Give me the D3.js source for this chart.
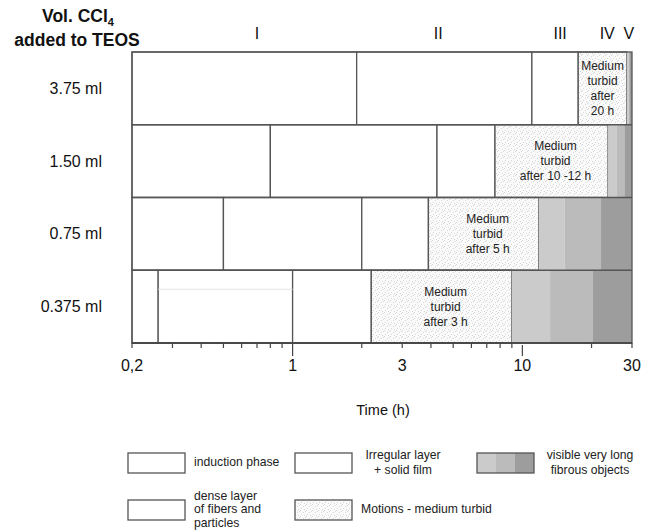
<!DOCTYPE html>
<html>
<head>
<meta charset="utf-8">
<script src="https://cdn.jsdelivr.net/npm/d3@7"></script>
<style>
  body { margin: 0; background: #fff; }
  text { font-family: Arial, "Liberation Sans", sans-serif; }
</style>
</head>
<body>
<div class="canva"></div>
<script>
// data
const samples = ["3.75 ml", "1.50 ml", "0.75 ml", "0.375 ml"];
// phase boundaries (h) for each sample
const edges = [
  [0.2, 1.9, 11, 17.5, 28.5, 29.2, 30],
  [0.2, 0.8, 4.25, 7.6, 23.6, 25.8, 27.8, 30],
  [0.2, 0.5, 2.0, 3.9, 11.8, 15.3, 22, 30],
  [0.2, 0.26, 1.0, 2.2, 9.0, 13.2, 20.3, 30]
];
const kinds = [
  ["plain", "plain", "plain", "motion", "g1", "g3"],
  ["plain", "plain", "plain", "motion", "g1", "g2", "g3"],
  ["plain", "plain", "plain", "motion", "g1", "g2", "g3"],
  ["plain", "plain", "plain", "motion", "g1", "g2", "g3"]
];
const turbidNotes = [
  ["Medium", "turbid", "after", "20 h"],
  ["Medium", "turbid", "after 10 -12 h"],
  ["Medium", "turbid", "after 5 h"],
  ["Medium", "turbid", "after 3 h"]
];
const phaseNames = ["I", "II", "III", "IV", "V"];
const phaseAt = [0.7, 4.3, 14.6, 23.4, 29.1];
const tickLabels = [[0.2, "0,2"], [1, "1"], [3, "3"], [10, "10"], [30, "30"]];

const W = 648, H = 531;
const svg = d3.select(".canva").append("svg").attr("width", W).attr("height", H);

const x = d3.scaleLog().domain([0.2, 30]).range([132, 632]);
const y = d3.scaleBand().domain(samples).range([52, 343]);

const fills = { plain: "#fff", motion: "url(#dots)", g1: "#cbcbcb", g2: "#bbbbbb", g3: "#9d9d9d" };

// stipple pattern for the turbid phase
const pat = svg.append("defs").append("pattern")
  .attr("id", "dots").attr("patternUnits", "userSpaceOnUse")
  .attr("width", 6).attr("height", 6);
pat.append("rect").attr("width", 6).attr("height", 6).attr("fill", "#fafafa");
[[0, 0], [3, 2], [1, 4], [4, 5], [5, 1]].forEach(p => {
  pat.append("rect").attr("x", p[0]).attr("y", p[1]).attr("width", 1).attr("height", 1).attr("fill", "#d6d6d6");
});

// cells
samples.forEach((s, i) => {
  const segs = kinds[i].map((k, j) => ({ k, a: edges[i][j], b: edges[i][j + 1] }));
  svg.append("g").selectAll("rect").data(segs).join("rect")
    .attr("x", d => x(d.a))
    .attr("y", y(s))
    .attr("width", d => x(d.b) - x(d.a))
    .attr("height", y.bandwidth())
    .attr("fill", d => fills[d.k])
    .attr("stroke", d => d.k === "plain" || d.k === "motion" ? "#555" : "none")
    .attr("stroke-width", 1.3);

  const m = segs.find(d => d.k === "motion");
  const cx = (x(m.a) + x(m.b)) / 2 + (i === 0 ? 0 : 4);
  const lines = turbidNotes[i];
  const lh = 15;
  const cy = y(s) + y.bandwidth() / 2 - (lines.length - 1) * lh / 2;
  svg.append("g").selectAll("text").data(lines).join("text")
    .text(d => d)
    .attr("x", cx)
    .attr("y", (d, j) => cy + j * lh)
    .attr("dy", "0.35em")
    .attr("text-anchor", "middle")
    .attr("font-size", 12)
    .attr("fill", "#222");

  svg.append("text").text(s)
    .attr("x", 102).attr("y", y(s) + y.bandwidth() / 2)
    .attr("dy", "0.35em").attr("text-anchor", "end")
    .attr("font-size", 16).attr("fill", "#111");
});

// faint line in the lowest row
svg.append("line")
  .attr("x1", x(0.26)).attr("x2", x(1.0))
  .attr("y1", y("0.375 ml") + 19).attr("y2", y("0.375 ml") + 19)
  .attr("stroke", "#e4e4e4").attr("stroke-width", 1);

// outline and row dividers
svg.append("rect")
  .attr("x", x(0.2)).attr("y", 52).attr("width", x(30) - x(0.2)).attr("height", 343 - 52)
  .attr("fill", "none").attr("stroke", "#555").attr("stroke-width", 1.3);
samples.forEach(s => {
  svg.append("line").attr("x1", x(0.2)).attr("x2", x(30))
    .attr("y1", y(s) + y.bandwidth()).attr("y2", y(s) + y.bandwidth())
    .attr("stroke", "#555").attr("stroke-width", 1.3);
});

// x axis
const axis = svg.append("g").attr("transform", "translate(0,343)");
axis.append("line").attr("x1", x(0.2)).attr("x2", x(30)).attr("stroke", "#444").attr("stroke-width", 1.3);
const ticks = x.ticks().filter(t => t >= 0.2 && t <= 30);
axis.selectAll("line.t").data(ticks).join("line").attr("class", "t")
  .attr("x1", d => x(d)).attr("x2", d => x(d))
  .attr("y1", d => d === 10 ? 2 : 0)
  .attr("y2", d => (d === 1 || d === 10) ? 13 : 5)
  .attr("stroke", "#444").attr("stroke-width", 1.2);
axis.selectAll("text").data(tickLabels).join("text")
  .text(d => d[1])
  .attr("x", d => x(d[0]))
  .attr("y", 28)
  .attr("text-anchor", "middle")
  .attr("font-size", 16).attr("fill", "#111");
svg.append("text").text("Time (h)")
  .attr("x", 383).attr("y", 415).attr("text-anchor", "middle")
  .attr("font-size", 14.5).attr("fill", "#111");

// phase numerals
svg.append("g").selectAll("text").data(phaseNames).join("text")
  .text(d => d)
  .attr("x", (d, i) => x(phaseAt[i]))
  .attr("y", 39)
  .attr("text-anchor", "middle")
  .attr("font-size", 16).attr("fill", "#111");

// y title
const yt = svg.append("text").attr("x", 78).attr("y", 22).attr("text-anchor", "middle")
  .attr("font-size", 17.5).attr("font-weight", "bold").attr("fill", "#111");
yt.append("tspan").text("Vol. CCl");
yt.append("tspan").text("4").attr("font-size", 11).attr("dy", 4);
svg.append("text").text("added to TEOS").attr("x", 77).attr("y", 46)
  .attr("text-anchor", "middle").attr("font-size", 17.5).attr("font-weight", "bold").attr("fill", "#111");

// legend
const legendItems = [
  { kinds: ["plain"], lines: ["induction phase"], bx: 128, by: 453, tx: 194, anchor: "start", lh: 14.5 },
  { kinds: ["plain"], lines: ["Irregular layer", "+ solid film"], bx: 295, by: 453, tx: 403, anchor: "middle", lh: 14.5 },
  { kinds: ["g1", "g2", "g3"], lines: ["visible very long", "fibrous objects"], bx: 477, by: 453, tx: 590, anchor: "middle", lh: 14.5 },
  { kinds: ["plain"], lines: ["dense layer", "of fibers and", "particles"], bx: 128, by: 500, tx: 194, anchor: "start", lh: 13.5 },
  { kinds: ["motion"], lines: ["Motions - medium turbid"], bx: 295, by: 500, tx: 361, anchor: "start", lh: 13.5 }
];
const bw = 57, bh = 20;
legendItems.forEach(it => {
  const g = svg.append("g");
  const sw = bw / it.kinds.length;
  it.kinds.forEach((k, j) => {
    g.append("rect").attr("x", it.bx + j * sw).attr("y", it.by).attr("width", sw).attr("height", bh)
      .attr("fill", fills[k]);
  });
  g.append("rect").attr("x", it.bx).attr("y", it.by).attr("width", bw).attr("height", bh)
    .attr("fill", "none").attr("stroke", "#555").attr("stroke-width", 1.3);
  const c = it.by + bh / 2 - (it.lines.length - 1) * it.lh / 2 - 1;
  g.selectAll("text").data(it.lines).join("text")
    .text(d => d)
    .attr("x", it.tx).attr("y", (d, j) => c + j * it.lh).attr("dy", "0.35em")
    .attr("text-anchor", it.anchor)
    .attr("font-size", 12.2).attr("fill", "#222");
});
</script>
</body>
</html>
